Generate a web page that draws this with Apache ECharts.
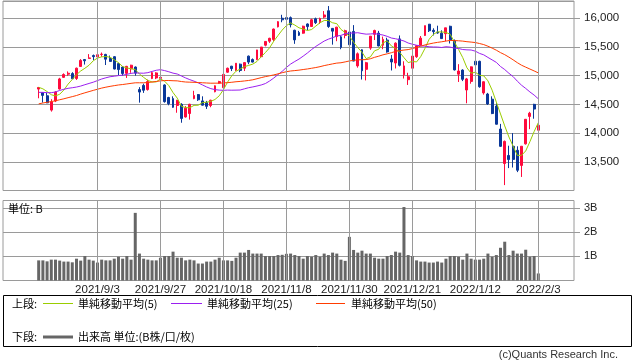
<!DOCTYPE html>
<html><head><meta charset="utf-8">
<script src="https://cdn.jsdelivr.net/npm/echarts@6/dist/echarts.min.js"></script>
<style>html,body{margin:0;padding:0;background:#fff}#c{width:638px;height:362px}</style>
</head><body><div id="c"></div>
<script>
// ---- data ----
const dates = ['2021/8/16','2021/8/17','2021/8/18','2021/8/19','2021/8/20','2021/8/23','2021/8/24','2021/8/25','2021/8/26','2021/8/27','2021/8/30','2021/8/31','2021/9/1','2021/9/2','2021/9/3','2021/9/7','2021/9/8','2021/9/9','2021/9/10','2021/9/13','2021/9/14','2021/9/15','2021/9/16','2021/9/17','2021/9/20','2021/9/21','2021/9/22','2021/9/23','2021/9/24','2021/9/27','2021/9/28','2021/9/29','2021/9/30','2021/10/1','2021/10/4','2021/10/5','2021/10/6','2021/10/7','2021/10/8','2021/10/11','2021/10/12','2021/10/13','2021/10/14','2021/10/15','2021/10/18','2021/10/19','2021/10/20','2021/10/21','2021/10/22','2021/10/25','2021/10/26','2021/10/27','2021/10/28','2021/10/29','2021/11/1','2021/11/2','2021/11/3','2021/11/4','2021/11/5','2021/11/8','2021/11/9','2021/11/10','2021/11/11','2021/11/12','2021/11/15','2021/11/16','2021/11/17','2021/11/18','2021/11/19','2021/11/22','2021/11/23','2021/11/24','2021/11/26','2021/11/29','2021/11/30','2021/12/1','2021/12/2','2021/12/3','2021/12/6','2021/12/7','2021/12/8','2021/12/9','2021/12/10','2021/12/13','2021/12/14','2021/12/15','2021/12/16','2021/12/17','2021/12/20','2021/12/21','2021/12/22','2021/12/23','2021/12/27','2021/12/28','2021/12/29','2021/12/30','2021/12/31','2022/1/3','2022/1/4','2022/1/5','2022/1/6','2022/1/7','2022/1/10','2022/1/11','2022/1/12','2022/1/13','2022/1/14','2022/1/18','2022/1/19','2022/1/20','2022/1/21','2022/1/24','2022/1/25','2022/1/26','2022/1/27','2022/1/28','2022/1/31','2022/2/1','2022/2/2','2022/2/3'];

const opens = [14766,14703,14650,14400,14558,14768,14970,15025,15036,14950,15160,15280,15300,15350,15327,15369,15370,15298,15330,15210,15150,15040,15120,15150,14758,14830,14758,14950,14960,14953,14838,14620,14600,14480,14500,14280,14340,14600,14670,14560,14530,14480,14720,14870,14790,15060,15165,15095,15200,15130,15340,15280,15280,15330,15530,15600,15630,15850,16000,16010,16010,15790,15750,15740,15900,15856,15990,15940,16020,16130,15823,15680,15676,15700,15760,15770,15170,15450,15110,15480,15720,15740,15530,15620,15290,15220,15640,15015,14930,15130,15330,15530,15700,15896,15790,15760,15740,15730,15860,15600,15025,15097,14750,14900,15250,15250,14700,14680,14590,14470,14070,13470,13610,13770,13700,13436,13812,14290,14500,14050];
const highs = [14796,14712,14700,14590,14729,14962,15040,15074,15060,15140,15288,15290,15375,15368,15403,15403,15380,15350,15340,15225,15160,15170,15190,15160,14800,14860,14930,15070,15060,14990,14850,14631,14640,14580,14520,14470,14510,14736,14680,14640,14560,14580,14830,14910,15030,15140,15170,15220,15210,15230,15350,15300,15450,15500,15600,15660,15820,15950,16060,16040,16030,15800,15780,15870,15910,15990,16010,16010,16125,16212,15830,15850,15690,15800,15790,15880,15404,15460,15240,15690,15800,15780,15680,15660,15360,15580,15700,15250,15050,15345,15530,15690,15871,15900,15825,15870,15790,15833,15870,15630,15200,15110,14960,15160,15320,15260,14900,14700,14640,14520,14160,13870,13780,14000,13770,13771,14242,14370,14510,14190];
const lows = [14606,14531,14520,14374,14540,14758,14960,14995,14945,14925,15157,15193,15296,15270,15305,15328,15185,15245,15110,15010,15000,14960,15050,15000,14530,14700,14740,14940,14940,14880,14530,14484,14440,14354,14180,14270,14234,14590,14560,14480,14420,14450,14710,14860,14780,15050,15080,15080,15060,15080,15200,15230,15270,15320,15510,15570,15600,15840,15930,15960,15840,15554,15690,15730,15790,15850,15900,15900,16000,15832,15540,15600,15460,15650,15470,15252,15139,14932,14917,15450,15620,15511,15460,15400,15090,15125,15160,14950,14838,15040,15310,15520,15690,15760,15700,15730,15640,15600,15560,15090,14890,14905,14519,14860,15130,14790,14670,14490,14330,14150,13760,13094,13390,13400,13320,13236,13800,14068,14250,14040];
const closes = [14794,14656,14526,14542,14715,14943,15020,15042,14946,15130,15266,15259,15309,15331,15364,15374,15287,15248,15115,15106,15038,15162,15182,15044,14714,14746,14897,15052,15048,14970,14547,14512,14449,14567,14255,14434,14502,14654,14580,14486,14466,14572,14823,14897,15022,15129,15122,15216,15090,15227,15236,15236,15448,15498,15596,15650,15812,15940,15972,15982,15887,15623,15704,15861,15854,15974,15922,15994,16057,15855,15775,15845,15492,15783,15538,15254,15381,15085,15225,15687,15787,15517,15631,15413,15238,15566,15180,15170,14981,15341,15522,15653,15871,15782,15766,15742,15645,15833,15623,15100,15081,14936,14943,15153,15188,14807,14894,14507,14340,14154,13769,13855,13539,13542,13353,13771,14240,14346,14418,14135];
// daily closes before the visible window, needed only for the moving averages
const priorCloses = [13882,13925,13912,14020,14069,14174,14073,14040,14161,14030,14141,14253,14272,14370,14360,14501,14528,14504,14522,14639,14664,14665,14560,14702,14733,14678,14645,14543,14427,14275,14499,14632,14685,14837,14841,14661,14763,14778,14673,14681,14761,14781,14895,14836,14860,14788,14765,14816,14823];
// volume, unit B
const volumes = [0.83,0.83,0.79,0.86,0.86,0.82,0.78,0.78,0.75,0.90,0.82,1.01,0.86,0.82,0.74,0.86,0.83,0.83,0.90,0.98,0.90,1.01,0.86,2.79,1.11,0.90,0.86,0.83,0.83,0.94,1.01,1.01,1.19,0.94,0.94,0.83,0.86,0.83,0.70,0.70,0.78,0.78,0.86,0.94,0.83,0.83,0.81,0.94,1.15,1.15,1.26,1.11,1.11,1.11,1.01,1.01,1.01,1.05,1.06,1.10,1.11,1.05,1.01,0.90,1.01,0.98,1.05,0.98,1.11,1.05,1.15,1.11,0.86,0.81,1.80,1.26,1.15,1.23,1.11,1.11,0.94,0.90,0.90,1.01,1.05,1.19,1.15,3.03,1.05,1.01,0.83,0.78,0.78,0.74,0.74,0.78,0.74,0.90,1.01,1.01,0.98,0.86,1.11,0.90,0.86,0.86,0.90,1.11,0.98,1.05,1.35,1.60,1.05,1.23,1.11,1.11,1.27,0.98,1.01,0.29];
const tickLabels = ['2021/9/3','2021/9/27','2021/10/18','2021/11/8','2021/11/30','2021/12/21','2022/1/12','2022/2/3'];
const maPeriods = [5, 25, 50];

// ---- build ----
const PAD_BEFORE = 8, PAD_AFTER = 8;
const cats = [];
for (let i = 0; i < PAD_BEFORE; i++) cats.push('_b' + i);
dates.forEach(d => cats.push(d));
for (let i = 0; i < PAD_AFTER; i++) cats.push('_a' + i);
const pad = (arr) => { const r = []; for (let i = 0; i < PAD_BEFORE; i++) r.push('-'); arr.forEach(v => r.push(v)); for (let i = 0; i < PAD_AFTER; i++) r.push('-'); return r; };

const candle = pad(dates.map((d, i) => [opens[i], closes[i], lows[i], highs[i]]));
const allCloses = priorCloses.concat(closes);
function ma(n) {
  return dates.map((d, i) => {
    const end = priorCloses.length + i;
    let s = 0;
    for (let k = end - n + 1; k <= end; k++) s += allCloses[k];
    return +(s / n).toFixed(2);
  });
}
const maColors = ['#9acd00', '#9b1ff0', '#ff3c00'];
const vlines = tickLabels.map(t => ({ xAxis: cats.indexOf(t) }));
const gridColor = '#9a9a9a';
const FONT = '"Liberation Sans", Arial, sans-serif';
const JFONT = '"Noto Sans CJK JP", sans-serif';

const chart = echarts.init(document.getElementById('c'), null, { renderer: 'canvas' });
const mkLine = { silent: true, symbol: ['none', 'none'], label: { show: false }, animation: false,
  lineStyle: { color: gridColor, type: 'solid', width: 1 }, emphasis: { disabled: true }, data: vlines };

chart.setOption({
  animation: false,
  backgroundColor: '#fff',
  grid: [
    { left: 3, top: 1, width: 571, height: 189.5, show: true, borderColor: gridColor, borderWidth: 1, backgroundColor: 'transparent', outerBoundsMode: 'none', containLabel: false },
    { left: 3, top: 200.5, width: 571, height: 80, show: true, borderColor: gridColor, borderWidth: 1, backgroundColor: 'transparent', outerBoundsMode: 'none', containLabel: false }
  ],
  xAxis: [
    { type: 'category', gridIndex: 0, data: cats, boundaryGap: true,
      axisLine: { show: false }, axisTick: { show: false }, axisLabel: { show: false }, splitLine: { show: false } },
    { type: 'category', gridIndex: 1, data: cats, boundaryGap: true,
      axisLine: { show: false }, axisTick: { show: false }, splitLine: { show: false },
      axisLabel: { show: true, interval: (idx, val) => tickLabels.indexOf(val) >= 0, hideOverlap: false,
        margin: 3, color: '#222', fontSize: 11.5, fontFamily: FONT } }
  ],
  yAxis: [
    { type: 'value', gridIndex: 0, position: 'right', min: 13000, max: 16300, interval: 500,
      axisLine: { show: false },
      axisTick: { show: true, inside: false, length: 6, lineStyle: { color: gridColor } },
      splitLine: { show: true, lineStyle: { color: gridColor, width: 1 } },
      axisLabel: { show: true, margin: 10, color: '#222', fontSize: 11.5, fontFamily: FONT,
        showMinLabel: false, showMaxLabel: false, formatter: v => v.toLocaleString('en-US') } },
    { type: 'value', gridIndex: 1, position: 'right', min: 0, max: 3.3, interval: 1,
      axisLine: { show: false },
      axisTick: { show: true, inside: false, length: 6, lineStyle: { color: gridColor } },
      splitLine: { show: true, lineStyle: { color: gridColor, width: 1 } },
      axisLabel: { show: true, margin: 10, color: '#222', fontSize: 11, fontFamily: FONT,
        showMinLabel: false, showMaxLabel: false, formatter: v => v + 'B' } }
  ],
  series: [
    { type: 'line', xAxisIndex: 0, yAxisIndex: 0, data: [], z: 1, silent: true, markLine: mkLine },
    { type: 'line', xAxisIndex: 1, yAxisIndex: 1, data: [], z: 1, silent: true, markLine: mkLine },
    { type: 'candlestick', xAxisIndex: 0, yAxisIndex: 0, data: candle, barWidth: 2.4, z: 3,
      itemStyle: { color: '#ff0a3c', color0: '#0a3799', borderColor: '#ff0a3c', borderColor0: '#0a3799', borderWidth: 1 } },
    ...maPeriods.map((p, k) => ({ type: 'line', xAxisIndex: 0, yAxisIndex: 0, data: pad(ma(p)), z: 4,
      showSymbol: false, symbol: 'none', smooth: false, lineStyle: { color: maColors[k], width: 1 } })),
    { type: 'bar', xAxisIndex: 1, yAxisIndex: 1, data: pad(volumes), barWidth: 3, z: 3,
      itemStyle: { color: '#666666' } }
  ],
  graphic: [
    { type: 'text', left: 8, top: 203, z: 10, style: { text: '単位: B', font: '11px ' + JFONT, fill: '#000' } },
    { type: 'rect', shape: { x: 3.5, y: 295.5, width: 628, height: 51 }, style: { fill: 'none', stroke: '#000', lineWidth: 1 } },
    { type: 'text', x: 12, y: 303.5, style: { text: '上段:', font: '11px ' + JFONT, fill: '#000', verticalAlign: 'middle' } },
    { type: 'line', shape: { x1: 43, y1: 303.5, x2: 73, y2: 303.5 }, style: { stroke: maColors[0], lineWidth: 1 } },
    { type: 'text', x: 78, y: 303.5, style: { text: '単純移動平均(5)', font: '11px ' + JFONT, fill: '#000', verticalAlign: 'middle' } },
    { type: 'line', shape: { x1: 171, y1: 303.5, x2: 202, y2: 303.5 }, style: { stroke: maColors[1], lineWidth: 1 } },
    { type: 'text', x: 207, y: 303.5, style: { text: '単純移動平均(25)', font: '11px ' + JFONT, fill: '#000', verticalAlign: 'middle' } },
    { type: 'line', shape: { x1: 316, y1: 303.5, x2: 345, y2: 303.5 }, style: { stroke: maColors[2], lineWidth: 1 } },
    { type: 'text', x: 351, y: 303.5, style: { text: '単純移動平均(50)', font: '11px ' + JFONT, fill: '#000', verticalAlign: 'middle' } },
    { type: 'text', x: 12, y: 337, style: { text: '下段:', font: '11px ' + JFONT, fill: '#000', verticalAlign: 'middle' } },
    { type: 'line', shape: { x1: 43, y1: 337, x2: 73, y2: 337 }, style: { stroke: '#666666', lineWidth: 3 } },
    { type: 'text', x: 78, y: 337, style: { text: '出来高 単位:(B株/口/枚)', font: '11px ' + JFONT, fill: '#000', verticalAlign: 'middle' } },
    { type: 'text', x: 618, y: 355, style: { text: '(c)Quants Research Inc.', font: '11px ' + FONT, fill: '#333', align: 'right', verticalAlign: 'middle' } }
  ]
});
</script>
</body></html>
